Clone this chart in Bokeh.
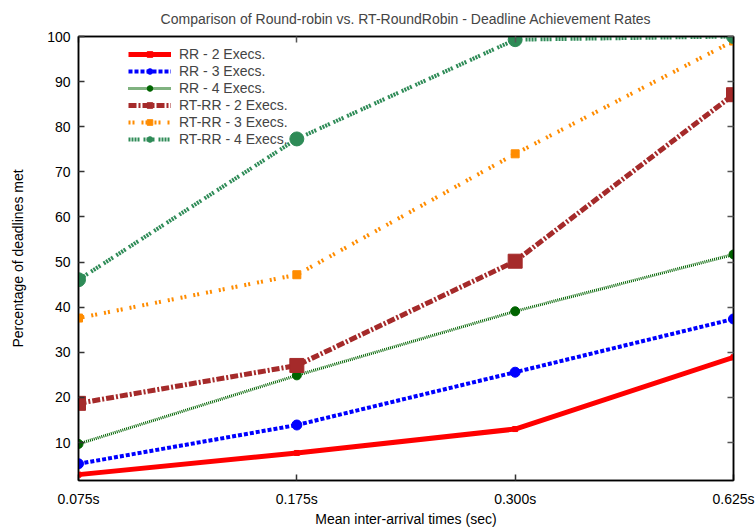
from bokeh.plotting import figure
from bokeh.models import Range1d, FixedTicker, LinearAxis, Legend, LegendItem
from bokeh.embed import file_html
from bokeh.resources import INLINE

# ---- data ----
title_text = "Comparison of Round-robin vs. RT-RoundRobin - Deadline Achievement Rates"
x_labels = ["0.075s", "0.175s", "0.300s", "0.625s"]
x_idx = [0, 1, 2, 3]
y_ticks = [10, 20, 30, 40, 50, 60, 70, 80, 90, 100]

rr_2 = [2.9, 7.7, 13.0, 28.9]
rr_3 = [5.3, 13.9, 25.6, 37.4]
rr_4 = [9.7, 24.9, 39.1, 51.7]
rtrr_2 = [18.7, 27.1, 50.2, 87.1]
rtrr_3 = [37.6, 47.2, 74.0, 99.0]
rtrr_4 = [46.1, 77.3, 99.3, 100.0]

FONT = "Liberation Sans"

p = figure(width=756, height=532, output_backend="svg", toolbar_location=None,
           x_range=Range1d(0, 3), y_range=Range1d(1.6, 100),
           title=title_text,
           min_border_left=78, min_border_right=23, min_border_top=36, min_border_bottom=52)

p.title.align = "center"
p.title.vertical_align = "top"
p.title.text_font = FONT
p.title.text_font_size = "14px"
p.title.text_font_style = "normal"
p.title.offset = 0
p.title.standoff = 16

p.xgrid.visible = False
p.ygrid.visible = False
p.outline_line_color = "black"
p.outline_line_width = 1.5
p.background_fill_color = "white"
p.border_fill_color = "white"

p.xaxis.ticker = FixedTicker(ticks=x_idx)
p.xaxis.major_label_overrides = {i: s for i, s in zip(x_idx, x_labels)}
p.yaxis.ticker = FixedTicker(ticks=y_ticks)
p.xaxis.axis_label = "Mean inter-arrival times (sec)"
p.yaxis.axis_label = "Percentage of deadlines met"

for ax in (p.xaxis, p.yaxis):
    ax.major_label_text_font = FONT
    ax.major_label_text_font_size = "14px"
    ax.major_label_text_color = "black"
    ax.axis_label_text_font = FONT
    ax.axis_label_text_font_size = "14px"
    ax.axis_label_text_font_style = "normal"
    ax.axis_label_text_color = "black"
    ax.major_tick_in = 6
    ax.major_tick_out = 0
    ax.minor_tick_line_color = None
    ax.axis_line_color = "black"
    ax.axis_line_width = 1.5
    ax.major_tick_line_color = "#333333"
    ax.major_tick_line_width = 1.5
p.xaxis.major_label_standoff = 10
p.yaxis.major_label_standoff = 8
p.xaxis.axis_label_standoff = 1
p.yaxis.axis_label_standoff = 18

# mirrored axes (ticks only; their labels are not drawn)
right_ax = LinearAxis(ticker=FixedTicker(ticks=y_ticks),
                      major_label_text_font_size="10px", major_label_text_color=None,
                      major_label_standoff=4,
                      major_tick_in=6, major_tick_out=0, minor_tick_line_color=None,
                      axis_line_color="black", axis_line_width=1.5,
                      major_tick_line_color="#555555", major_tick_line_width=1.5)
top_ax = LinearAxis(ticker=FixedTicker(ticks=x_idx),
                    major_label_text_font_size="10px", major_label_text_color=None,
                    major_label_standoff=4,
                    major_tick_in=6, major_tick_out=0, minor_tick_line_color=None,
                    axis_line_color="black", axis_line_width=1.5,
                    major_tick_line_color="#555555", major_tick_line_width=1.5)
p.add_layout(right_ax, "right")
p.add_layout(top_ax, "above")

series = [
    ("RR - 2 Execs.", rr_2, "#FF0000", 5, "solid", "square", 5),
    ("RR - 3 Execs.", rr_3, "#0000FF", 4, "4 2", "circle", 10),
    ("RR - 4 Execs.", rr_4, "#006400", 3, "1 1", "circle", 9),
    ("RT-RR - 2 Execs.", rtrr_2, "#A52A2A", 5, "8 2 2 2", "square", 14),
    ("RT-RR - 3 Execs.", rtrr_3, "#FF8C00", 4, "2 2 2 7", "square", 8),
    ("RT-RR - 4 Execs.", rtrr_4, "#2E8B57", 4, "2 1 2 1 2 1 2 4", "circle", 14),
]

items = []
for name, ys, color, lw, dash, marker, size in series:
    r1 = p.line(x_idx, ys, line_color=color, line_width=lw, line_dash=dash)
    r2 = p.scatter(x_idx, ys, marker=marker, size=size, fill_color=color, line_color=color)
    items.append(LegendItem(label=name, renderers=[r1, r2]))

legend = Legend(items=items, location=(50, 333))
legend.label_text_font = FONT
legend.label_text_font_size = "14px"
legend.glyph_width = 43
legend.glyph_height = 14
legend.label_height = 14
legend.spacing = 1
legend.padding = 2
legend.margin = 0
legend.label_standoff = 8
legend.border_line_color = None
legend.background_fill_alpha = 0
p.add_layout(legend)

open("out.html", "w").write(file_html(p, INLINE))
